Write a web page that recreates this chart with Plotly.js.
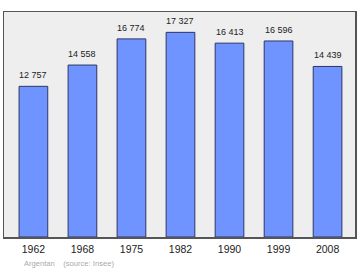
<!DOCTYPE html>
<html>
<head>
<meta charset="utf-8">
<script src="https://cdn.plot.ly/plotly-3.0.1.min.js"></script>
<style>html,body{margin:0;padding:0;background:#fff;}#chart{width:360px;height:270px;}</style>
</head>
<body>
<div id="chart"></div>
<script>
const years = ["1962", "1968", "1975", "1982", "1990", "1999", "2008"];
const population = [12757, 14558, 16774, 17327, 16413, 16596, 14439];
const labels = ["12 757", "14 558", "16 774", "17 327", "16 413", "16 596", "14 439"];
const townName = "Argentan";
const sourceText = "(source: Insee)";

const trace = {
  type: "bar",
  x: years,
  y: population,
  width: 0.585,
  marker: {color: "#7094ff", line: {color: "#2e3566", width: 1}},
  hoverinfo: "none"
};

const annotations = years.map((yr, i) => ({
  x: i, y: population[i], xref: "x", yref: "y",
  text: labels[i], showarrow: false, yanchor: "bottom", yshift: 4,
  font: {family: "Liberation Sans, Arial, sans-serif", size: 9, color: "#222"}
}));
annotations.push({
  xref: "paper", yref: "paper", x: 0.05, y: -0.116, xanchor: "left", yanchor: "middle",
  text: townName + "&nbsp;&nbsp;&nbsp;&nbsp;" + sourceText, showarrow: false,
  font: {family: "Liberation Sans, Arial, sans-serif", size: 7.6, color: "#aaaaaa"}
});

const layout = {
  width: 360, height: 270,
  margin: {l: 4, r: 4.5, t: 12, b: 33, pad: 0},
  paper_bgcolor: "#ffffff",
  plot_bgcolor: "#eeeeee",
  showlegend: false,
  xaxis: {
    type: "category", range: [-0.6, 6.56],
    showline: true, mirror: true, linecolor: "#555", linewidth: 1.5,
    showgrid: false, zeroline: false, ticks: "outside", ticklen: 2, tickcolor: "rgba(0,0,0,0)",
    tickfont: {family: "Liberation Sans, Arial, sans-serif", size: 10.5, color: "#222"}
  },
  yaxis: {
    range: [0, 19050],
    showline: true, mirror: true, linecolor: "#555", linewidth: 1.5,
    showgrid: false, zeroline: false, showticklabels: false, ticks: ""
  },
  annotations: annotations
};

Plotly.newPlot("chart", [trace], layout, {displayModeBar: false, staticPlot: true});
</script>
</body>
</html>
